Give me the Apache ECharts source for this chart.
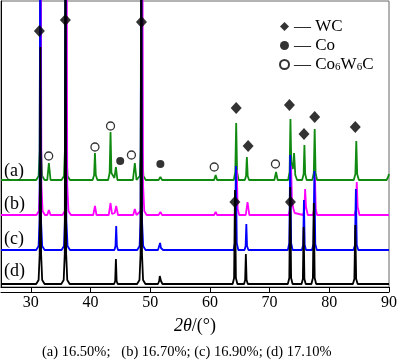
<!DOCTYPE html>
<html><head><meta charset="utf-8">
<script src="https://cdn.jsdelivr.net/npm/echarts@6/dist/echarts.min.js"></script>
<style>html,body{margin:0;padding:0;background:#fff}#c{width:400px;height:364px}</style>
</head><body><div id="c"></div>
<script>
// x tick labels (2θ, degrees)
const xTicks = [30, 40, 50, 60, 70, 80, 90];

// Traces: [2θ, stacked intensity (a.u.)]
const traceA = [[25,107],
 [30.9,107],[31.3,111],[31.48,137],[31.6,400],[31.72,137],[31.9,111],[32.3,107],
 [32.75,107],[33.02,124],[33.3,107],
 [35.15,107],[35.55,111],[35.71,137],[35.83,400],[35.95,137],[36.15,111],[36.55,107],
 [40.35,107],[40.6,112],[40.74,134],[40.88,112],[41.15,107],
 [42.95,107],[43.2,114],[43.35,155],[43.5,114],
 [44.0,109],[44.25,120],[44.5,107],
 [47.1,107],[47.42,124],[47.7,107],
 [47.85,107],[48.25,111],[48.41,137],[48.53,400],[48.65,137],[48.85,111],[49.25,107],
 [51.4,107],[51.7,110],[52.0,107],
 [60.7,107],[60.96,112],[61.2,107],
 [64.0,107],[64.25,115],[64.40,164],[64.55,115],[64.8,107],
 [65.85,107],[66.05,111],[66.19,130],[66.33,111],[66.55,107],
 [70.8,107],[71.08,115],[71.35,107],
 [73.1,107],[73.35,115],[73.49,168],[73.63,125],[73.9,118],[74.1,134],[74.3,112],[74.6,107],
 [75.45,107],[75.7,113],[75.83,142],[75.96,113],[76.2,107],
 [77.15,107],[77.4,114],[77.55,158],[77.7,114],[77.95,107],
 [84.1,107],[84.37,113],[84.52,146],[84.67,113],[84.95,107],
 [89.6,107],[89.85,110],[90,113]];

const traceB = [[25,72],
 [30.95,72],[31.35,76],[31.53,102],[31.65,400],[31.77,102],[31.97,76],[32.35,72],
 [32.75,72],[33.02,77],[33.3,72],
 [35.3,72],[35.7,76],[35.86,102],[35.98,400],[36.1,102],[36.3,76],[36.7,72],
 [40.45,72],[40.74,81],[41.0,72],
 [43.05,72],[43.35,84],[43.6,73],
 [44.05,74],[44.3,81],[44.6,72],
 [47.15,72],[47.42,78],[47.7,72],
 [48.0,72],[48.4,76],[48.56,102],[48.68,400],[48.8,102],[49.0,76],[49.4,72],
 [51.4,72],[51.7,75],[52.0,72],
 [60.7,72],[60.96,75],[61.2,72],
 [64.1,72],[64.35,78],[64.5,117],[64.65,78],[64.9,72],
 [66.0,72],[66.3,85],[66.6,72],
 [73.2,72],[73.45,79],[73.6,121],[73.75,85],[74.0,78],[74.2,74],[74.5,72],
 [75.6,72],[75.82,77],[75.95,98],[76.1,80],[76.4,72],
 [77.25,72],[77.47,78],[77.6,110],[77.73,78],[77.95,72],
 [84.2,72],[84.45,77],[84.6,105],[84.75,80],[85.05,72],
 [90,72]];

const traceC = [[25,37],
 [30.9,37],[31.3,41],[31.46,67],[31.58,400],[31.7,67],[31.9,41],[32.3,37],
 [35.15,37],[35.55,41],[35.71,67],[35.83,400],[35.95,67],[36.15,41],[36.55,37],
 [43.1,37],[43.35,39],[43.6,37],
 [44.0,37],[44.18,41],[44.3,61],[44.42,41],[44.6,37],
 [47.82,37],[48.22,41],[48.38,67],[48.5,400],[48.62,67],[48.82,41],[49.22,37],
 [51.3,37],[51.5,39],[51.65,44],[51.8,39],[52.0,37],[52.15,37],[52.3,37],
 [55.0,37],[58.0,37],[61.0,37],
 [63.95,37],[64.2,44],[64.35,121],[64.5,44],[64.75,37],
 [65.8,37],[65.98,41],[66.1,63],[66.22,41],[66.45,37],
 [73.05,37],[73.3,44],[73.45,132],[73.6,44],[73.85,37],
 [75.4,37],[75.62,42],[75.75,87],[75.88,42],[76.1,37],
 [77.1,37],[77.35,43],[77.5,116],[77.65,43],[77.9,37],
 [84.05,37],[84.3,42],[84.45,98],[84.6,42],[84.85,37],
 [90,37]];

const traceD = [[25,3],
 [30.9,3],[31.3,7],[31.48,33],[31.6,240],[31.72,33],[31.9,7],[32.3,3],
 [35.1,3],[35.5,7],[35.68,33],[35.8,400],[35.92,33],[36.1,7],[36.5,3],
 [43.95,3],[44.13,6],[44.25,28],[44.37,6],[44.55,3],
 [47.8,3],[48.2,7],[48.38,33],[48.5,400],[48.62,33],[48.8,7],[49.2,3],
 [51.3,3],[51.5,6],[51.6,11],[51.8,6],[52.05,3],
 [63.8,3],[64.05,9],[64.2,97],[64.35,9],[64.6,3],
 [65.72,3],[65.9,7],[66.02,33],[66.14,7],[66.35,3],
 [73.05,3],[73.3,9],[73.45,100],[73.6,9],[73.85,3],
 [75.35,3],[75.57,8],[75.7,60],[75.83,8],[76.05,3],
 [77.0,3],[77.25,9],[77.4,84],[77.55,9],[77.8,3],
 [83.95,3],[84.2,8],[84.35,62],[84.5,8],[84.75,3],
 [90,3]];

// Phase markers [2θ, height]
const wcMarks = [[31.43,256],[35.78,267],[48.53,265],[64.40,179],[66.40,141],[73.32,182],
 [75.76,153],[77.55,170],[84.35,160],[64.18,85],[73.49,85]];
const coMarks = [[44.97,126],[51.70,123]];
const co6w6cMarks = [[32.99,131],[40.74,140],[43.35,161],[46.85,132],[60.72,120],[70.98,123]];

const traceNames = ['(a)', '(b)', '(c)', '(d)'];
const traceColors = ['#118a11', '#ff00ff', '#0000ff', '#000000'];
const caption = '(a) 16.50%;   (b) 16.70%; (c) 16.90%; (d) 17.10%';

const serif = 'Liberation Serif, Times New Roman, serif';
const chart = echarts.init(document.getElementById('c'));
const traces = [traceA, traceB, traceC, traceD];

const lineSeries = traces.map((d, i) => ({
  type: 'line', name: traceNames[i], data: d, showSymbol: true, symbol: 'circle', symbolSize: 0,
  smooth: false, itemStyle: { color: traceColors[i] },
  lineStyle: { color: traceColors[i], width: 1.8 }, z: 2 + i
}));

chart.setOption({
  animation: false,
  backgroundColor: '#fff',
  grid: { left: 1, right: 10, top: 1, bottom: 77, show: true, borderColor: '#666', borderWidth: 1 },
  xAxis: [{
    type: 'value', min: 25, max: 90, minInterval: 10, maxInterval: 10,
    name: '{i|2θ}/(°)', nameLocation: 'middle', nameGap: 30,
    nameTextStyle: { fontFamily: serif, fontSize: 18, color: '#000',
      rich: { i: { fontFamily: serif, fontSize: 18, fontStyle: 'italic', color: '#000' } } },
    axisLine: { lineStyle: { color: '#000', width: 1 } },
    axisTick: { inside: false, length: 5, lineStyle: { color: '#000' } },
    axisLabel: { margin: 8, fontFamily: serif, fontSize: 16, color: '#000', showMinLabel: false,
      formatter: v => xTicks.includes(v) ? String(v) : '' },
    splitLine: { show: false }
  }, {
    type: 'value', min: 25, max: 90, position: 'bottom', offset: 5,
    axisLine: { lineStyle: { color: '#000', width: 1 } },
    axisTick: { show: false }, axisLabel: { show: false }, splitLine: { show: false }
  }],
  yAxis: {
    type: 'value', min: 0, max: 286, show: true,
    axisLine: { show: true, lineStyle: { color: '#000' } },
    axisTick: { show: false }, axisLabel: { show: false }, splitLine: { show: false }
  },
  legend: {
    orient: 'vertical', left: 274, top: 13, itemWidth: 9, itemHeight: 9, itemGap: 2,
    data: ['WC', 'Co', 'Co6W6C'],
    formatter: n => n === 'Co6W6C' ? '— Co{s|6}W{s|6}C' : '— ' + n,
    textStyle: { fontFamily: serif, fontSize: 17, color: '#000',
      rich: { s: { fontFamily: serif, fontSize: 11, lineHeight: 8, verticalAlign: 'bottom', color: '#000' } } }
  },
  series: lineSeries.concat([
    { type: 'scatter', name: 'WC', data: wcMarks, symbol: 'diamond', symbolSize: [11, 12],
      itemStyle: { color: '#000' }, z: 10, silent: true },
    { type: 'scatter', name: 'Co', data: coMarks, symbol: 'circle', symbolSize: 8,
      itemStyle: { color: '#000' }, z: 10, silent: true },
    { type: 'scatter', name: 'Co6W6C', data: co6w6cMarks, symbol: 'circle', symbolSize: 8,
      itemStyle: { color: '#fff', borderColor: '#000', borderWidth: 1.3 }, z: 10, silent: true }
  ]),
  graphic: [
    ...traceNames.map((t, i) => ({
      type: 'text', left: 4, top: [162, 195, 230, 262][i], z: 20,
      style: { text: t, fontFamily: serif, fontSize: 18, fill: '#000' }
    })),
    { type: 'text', left: 42, top: 345, z: 20,
      style: { text: caption, fontFamily: serif, fontSize: 14.5, fill: '#000' } }
  ]
});
</script></body></html>
